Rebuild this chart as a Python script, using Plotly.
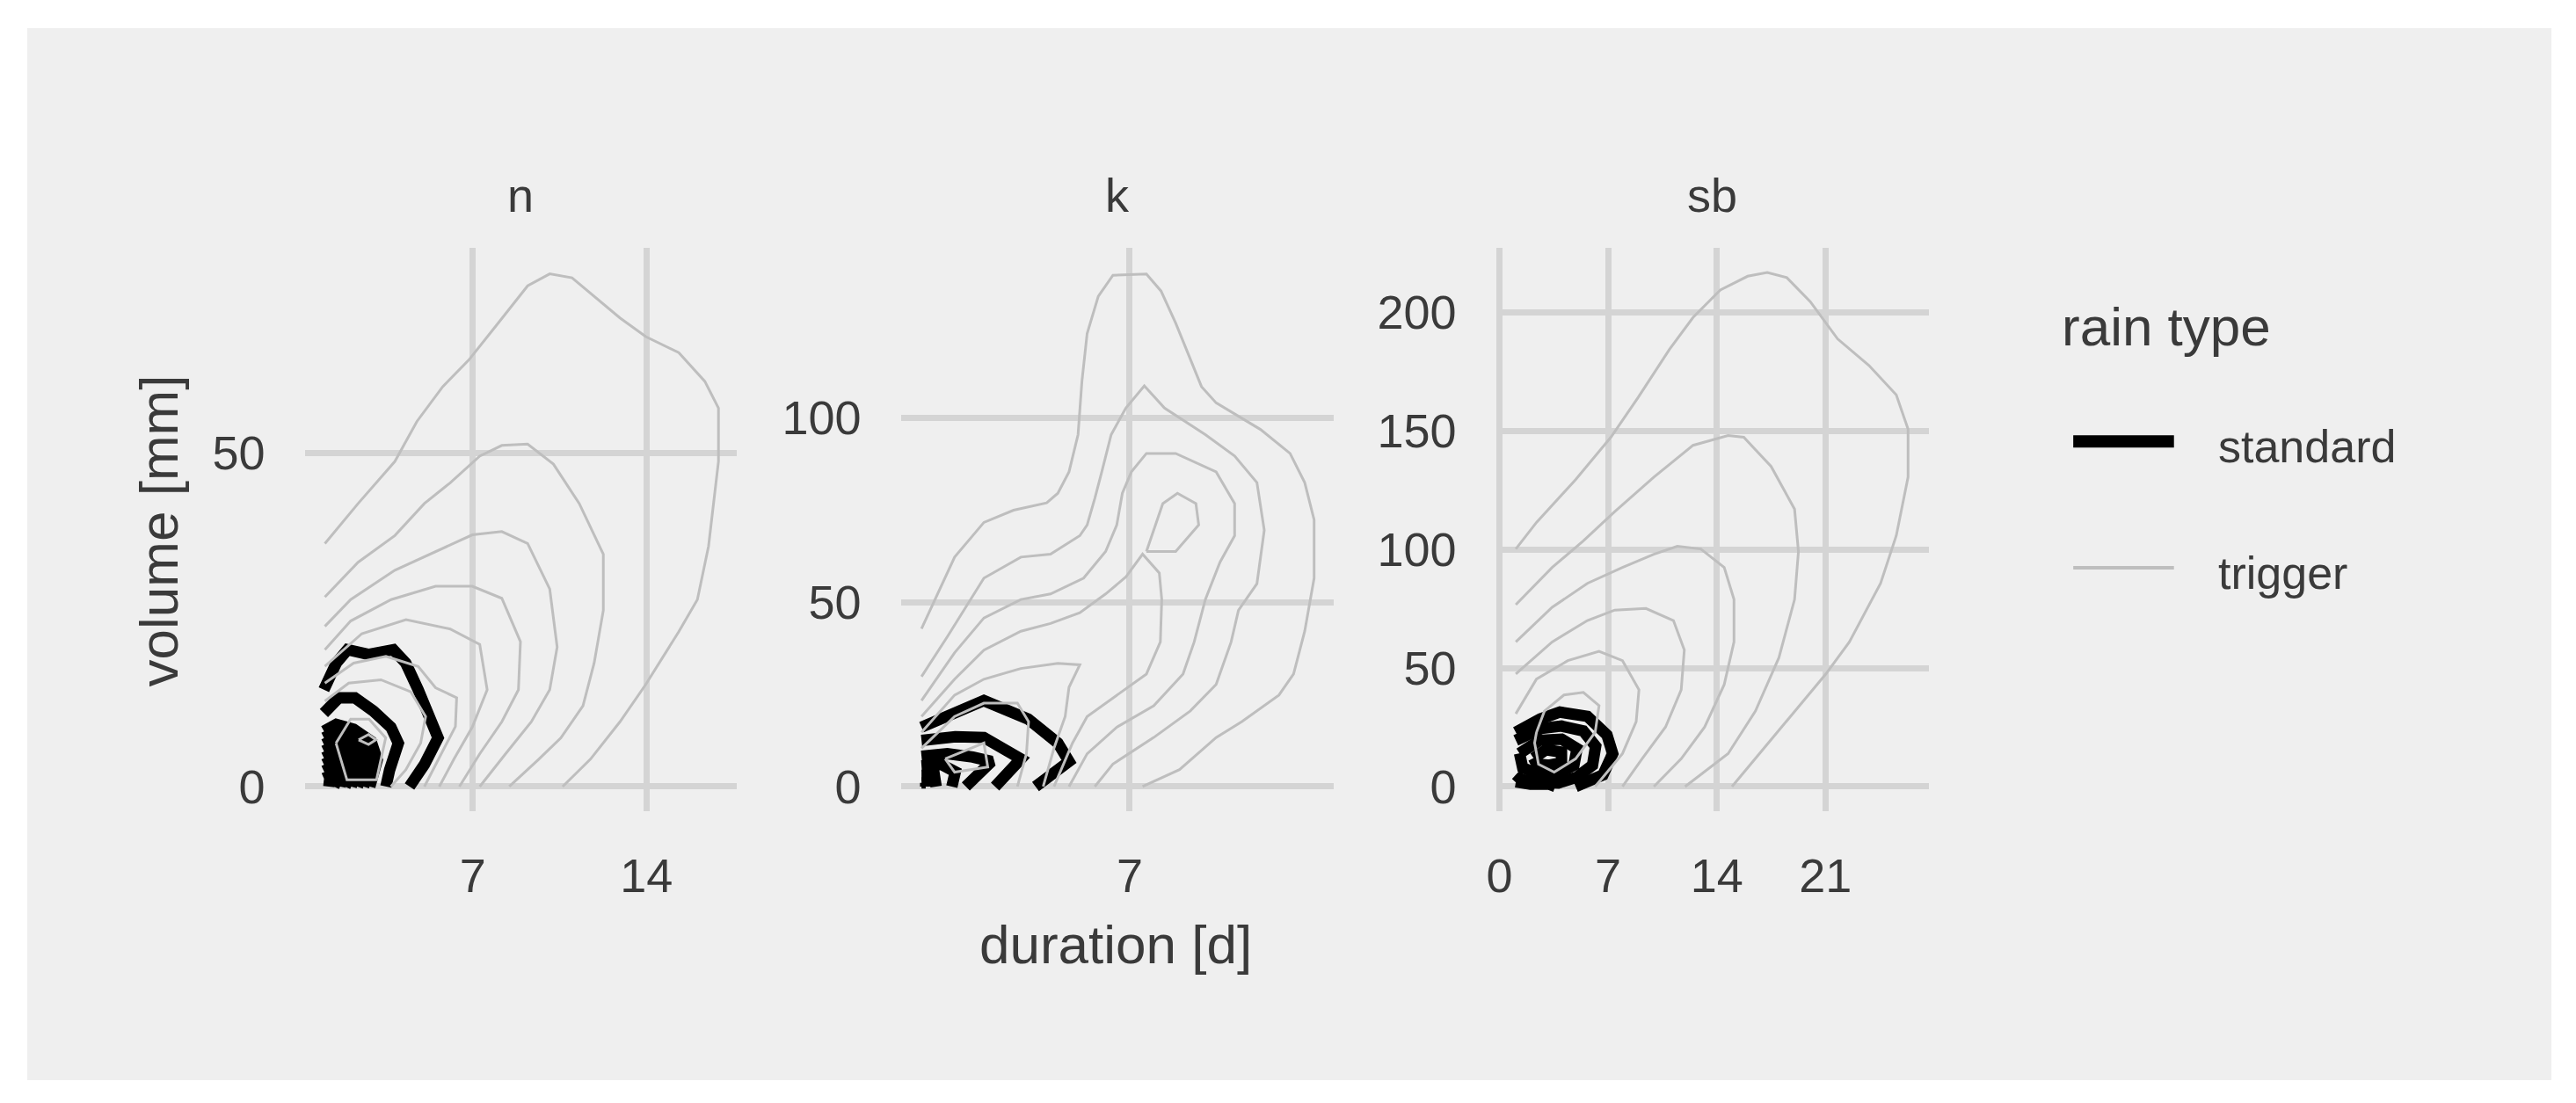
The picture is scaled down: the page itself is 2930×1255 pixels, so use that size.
import plotly.graph_objects as go

# ---- data: 2-D density contours, duration [d] vs volume [mm] ----
# each contour is a list of (duration, volume) vertices

N_TRIGGER = [
    [(1.04, 36.4), (2.38, 42.4), (3.86, 48.7), (4.75, 54.7), (5.79, 59.9), (6.84, 63.9), (8.02, 69.4),
     (9.21, 75.0), (10.1, 76.8), (11.0, 76.2), (12.93, 70.2), (13.97, 67.4), (15.3, 65.0), (16.35, 60.7),
     (16.9, 56.7), (16.9, 48.7), (16.5, 36.0), (16.05, 28.0), (15.3, 23.2), (13.97, 15.3), (12.93, 9.7),
     (11.74, 4.1), (10.62, 0)],
    [(1.04, 28.4), (2.38, 33.6), (3.86, 37.6), (5.05, 42.4), (6.09, 45.5), (7.28, 49.5), (8.17, 51.1),
     (9.21, 51.3), (10.25, 48.3), (11.29, 42.4), (12.26, 34.8), (12.26, 26.4), (11.89, 18.5), (11.44, 12.1),
     (10.55, 7.3), (9.66, 4.1), (8.47, 0)],
    [(1.04, 24.0), (2.08, 28.0), (3.86, 32.4), (5.5, 35.2), (6.98, 37.7), (8.17, 38.2), (9.21, 36.4),
     (10.1, 29.6), (10.4, 20.9), (10.1, 14.5), (9.36, 9.7), (8.32, 4.9), (7.28, 0)],
    [(1.04, 20.5), (2.08, 24.8), (3.71, 28.0), (5.5, 30.0), (6.98, 30.0), (8.17, 28.2), (8.92, 21.7),
     (8.84, 14.5), (8.17, 9.7), (7.28, 4.9), (6.46, 0)],
    [(1.04, 18.0), (2.53, 22.9), (4.31, 25.0), (6.09, 23.6), (7.28, 21.3), (7.58, 14.5), (6.98, 8.9),
     (6.24, 4.1), (5.65, 0)],
    [(1.04, 15.5), (2.2, 18.5), (3.5, 19.5), (4.8, 18.0), (5.5, 14.8), (6.35, 13.3), (6.3, 9.0),
     (5.75, 5.0), (5.05, 0)],
    [(1.04, 12.8), (2.0, 15.5), (3.3, 16.0), (4.5, 14.2), (5.1, 10.5), (4.9, 6.5), (4.3, 2.5), (3.7, 0)],
    [(1.49, 6.5), (2.08, 10.1), (2.82, 10.1), (3.49, 7.3), (3.12, 1.0), (1.93, 1.0), (1.49, 6.5)],
    [(2.4, 7.0), (2.8, 7.8), (3.1, 7.0), (2.8, 6.3), (2.4, 7.0)],
]
N_STANDARD = [
    [(1.0, 14.5), (1.5, 18.5), (1.95, 20.5), (2.8, 19.8), (3.8, 20.5), (4.3, 18.5), (4.8, 14.5),
     (5.3, 10.5), (5.6, 7.3), (5.05, 3.3), (4.45, 0)],
    [(1.0, 11.0), (1.6, 13.3), (2.25, 13.3), (3.0, 11.3), (3.7, 8.9), (4.0, 6.5), (3.65, 2.5), (3.5, 0)],
    [(1.0, 8.3), (1.5, 9.3), (2.2, 8.6), (2.9, 6.8), (3.15, 4.0), (2.95, 1.5), (2.85, 0)],
    [(1.0, 7.3), (1.5, 8.2), (2.15, 7.6), (2.75, 5.6), (2.85, 2.8), (2.6, 0)],
    [(1.0, 6.3), (1.5, 7.2), (2.1, 6.6), (2.6, 4.5), (2.5, 1.5), (2.35, 0)],
    [(1.0, 5.3), (1.5, 6.2), (2.05, 5.4), (2.35, 3.2), (2.1, 0)],
    [(1.0, 4.3), (1.5, 5.2), (2.0, 4.3), (2.1, 2.0), (1.85, 0)],
    [(1.0, 3.3), (1.45, 4.1), (1.8, 2.8), (1.65, 0)],
    [(1.0, 2.3), (1.4, 3.0), (1.6, 1.5), (1.4, 0)],
    [(1.0, 1.2), (1.25, 1.6), (1.2, 0)],
]

K_TRIGGER = [
    [(1.03, 42.8), (1.45, 51.4), (1.98, 62.2), (2.82, 71.6), (3.67, 74.9), (4.62, 76.9), (4.94, 79.5),
     (5.26, 85.3), (5.52, 95.4), (5.63, 109.8), (5.78, 122.8), (6.1, 132.9), (6.52, 138.6), (7.48, 138.9),
     (7.9, 134.3), (8.32, 125.6), (8.74, 115.6), (9.06, 108.4), (9.48, 104.0), (10.22, 99.7), (10.75, 96.8),
     (11.6, 90.3), (12.02, 82.4), (12.29, 72.3), (12.29, 56.5), (12.02, 42.1), (11.7, 30.5), (11.28, 24.8),
     (10.22, 17.6), (9.48, 13.3), (8.43, 4.6), (7.37, 0)],
    [(1.03, 29.8), (1.77, 40.6), (2.82, 56.5), (3.88, 62.2), (4.73, 63.0), (5.57, 68.0), (5.78, 70.9),
     (6.0, 78.1), (6.2, 85.3), (6.47, 95.4), (6.89, 102.6), (7.42, 108.6), (8.0, 102.6), (9.17, 95.4),
     (10.01, 89.6), (10.65, 82.4), (10.86, 69.5), (10.65, 55.0), (10.12, 47.8), (9.91, 39.2), (9.48, 27.7),
     (8.74, 20.5), (7.69, 13.3), (6.52, 6.1), (6.0, 0)],
    [(1.03, 23.3), (1.98, 36.3), (2.82, 45.7), (3.88, 50.7), (4.73, 52.2), (5.68, 56.5), (6.31, 63.7),
     (6.63, 70.9), (6.79, 79.5), (7.05, 85.3), (7.48, 90.3), (8.32, 90.3), (9.48, 85.3), (10.01, 76.7),
     (10.01, 68.0), (9.59, 60.8), (9.17, 50.7), (8.85, 39.2), (8.53, 30.5), (7.69, 21.9), (6.63, 16.1),
     (5.78, 8.9), (5.26, 0)],
    [(1.03, 19.0), (1.98, 29.1), (2.82, 37.0), (3.88, 42.1), (4.73, 44.2), (5.57, 47.1), (6.31, 52.2),
     (6.89, 56.8), (7.37, 63.0), (7.85, 57.9), (7.92, 50.7), (7.88, 39.2), (7.48, 30.5), (6.63, 24.8),
     (5.78, 19.0), (5.36, 11.8), (4.83, 0)],
    [(7.48, 63.7), (7.95, 76.7), (8.37, 79.5), (8.9, 76.7), (8.98, 70.9), (8.32, 63.7), (7.48, 63.7)],
    [(1.03, 14.7), (1.98, 24.8), (2.82, 29.1), (3.88, 32.0), (4.94, 33.4), (5.57, 33.0), (5.26, 26.9),
     (5.15, 19.0), (4.83, 10.4), (4.52, 0)],
    [(1.03, 10.4), (1.98, 19.0), (2.82, 22.6), (3.78, 22.6), (4.1, 17.6), (4.04, 8.9), (3.78, 0)],
    [(1.71, 7.5), (2.82, 11.8), (2.93, 5.3), (1.98, 3.9), (1.71, 7.5)],
]
K_STANDARD = [
    [(1.03, 16.1), (1.98, 19.7), (2.82, 23.3), (4.09, 18.3), (4.94, 11.8), (5.26, 6.8), (4.3, 0)],
    [(1.03, 12.5), (2.0, 13.5), (2.82, 13.3), (3.4, 10.5), (3.88, 7.5), (3.14, 0)],
    [(1.03, 8.2), (1.77, 8.9), (2.5, 8.0), (3.04, 6.8), (2.3, 0)],
    [(1.03, 5.6), (1.6, 6.0), (2.0, 4.0), (1.9, 0)],
    [(1.03, 3.0), (1.4, 3.0), (1.45, 0)],
    [(1.03, 1.0), (1.15, 1.0), (1.15, 0)],
]

SB_TRIGGER = [
    [(1.06, 100.2), (2.39, 111.4), (4.91, 129.4), (7.18, 147.3), (8.94, 164.1), (10.95, 184.3),
     (12.47, 197.8), (14.23, 209.4), (15.99, 215.2), (17.25, 216.8), (18.51, 214.6), (20.02, 204.5),
     (21.78, 188.8), (23.8, 177.6), (25.56, 165.2), (26.32, 150.7), (26.32, 130.5), (25.56, 105.8),
     (24.55, 85.7), (22.54, 61.0), (21.03, 47.5), (18.76, 29.6), (17.0, 16.1), (14.98, 0)],
    [(1.06, 76.7), (3.4, 92.4), (5.41, 103.6), (7.43, 115.9), (9.95, 130.5), (12.47, 143.9), (14.73, 148.0),
     (15.74, 147.3), (17.5, 135.0), (19.01, 117.0), (19.26, 99.1), (19.01, 78.9), (18.0, 54.3),
     (16.49, 31.8), (14.73, 13.9), (11.96, 0)],
    [(1.06, 61.0), (3.4, 75.6), (5.67, 85.7), (7.93, 92.4), (9.95, 98.0), (11.46, 101.3), (12.97, 100.2),
     (14.48, 92.4), (15.11, 78.9), (15.11, 61.0), (14.48, 43.0), (13.22, 25.1), (11.71, 11.7), (9.95, 0)],
    [(1.06, 47.5), (3.4, 61.0), (5.67, 70.0), (7.43, 74.4), (9.44, 75.1), (11.21, 70.0), (11.91, 57.6),
     (11.71, 40.8), (10.7, 25.1), (9.19, 11.7), (7.93, 0)],
    [(1.06, 30.7), (2.39, 45.3), (4.41, 53.1), (6.42, 57.0), (7.93, 53.1), (8.99, 40.8), (8.81, 27.4),
     (7.93, 13.9), (6.17, 0)],
    [(2.39, 22.9), (2.9, 31.8), (4.16, 38.6), (5.41, 39.7), (6.42, 34.1), (6.17, 22.9), (4.91, 11.7),
     (3.53, 6.1), (2.52, 9.4), (2.27, 18.4), (2.39, 22.9)],
]
SB_STANDARD = [
    [(1.06, 22.9), (2.64, 28.5), (3.9, 31.4), (5.67, 29.6), (6.93, 21.7), (7.3, 13.9), (6.67, 4.9), (4.91, 0)],
    [(1.06, 19.5), (2.7, 24.5), (4.0, 25.5), (5.4, 23.5), (6.2, 17.0), (6.0, 9.0), (5.0, 4.0), (3.8, 1.5),
     (2.5, 1.8), (1.4, 3.0), (1.06, 5.0)],
    [(1.3, 14.0), (2.6, 19.5), (4.0, 20.0), (5.0, 16.0), (4.8, 9.0), (3.8, 5.5), (2.4, 5.5), (1.5, 8.0),
     (1.3, 14.0)],
    [(2.2, 12.0), (3.0, 15.5), (4.0, 14.5), (4.0, 10.0), (3.2, 9.0), (2.4, 9.5), (2.2, 12.0)],
    [(1.06, 2.0), (2.0, 1.0), (3.2, 1.0), (3.6, 0)],
]

FACETS = ["n", "k", "sb"]
X_TICKS = {"n": [7, 14], "k": [7], "sb": [0, 7, 14, 21]}
Y_TICKS = {"n": [0, 50], "k": [0, 50, 100], "sb": [0, 50, 100, 150, 200]}
X_RANGE = {"n": [0.226, 17.65], "k": [0.436, 12.85], "sb": [-0.214, 27.65]}
Y_RANGE = {"n": [-3.67, 80.74], "k": [-6.64, 146.1], "sb": [-10.33, 227.3]}
RAIN_TYPES = ["standard", "trigger"]

# ---- layout constants (pixels of the 2930x1255 canvas) ----
W, H = 2930, 1255
PANEL_X = {"n": (336.8, 830.5), "k": (1017.4, 1511.6), "sb": (1697.0, 2191.0)}
PANEL_Y = (282.1, 924.3)
TXT = "#3a3a3a"
FONT = "Liberation Sans, Arial, sans-serif"
GRID = "#d4d4d4"
GREY_LINE = "#bebebe"


def fx(px):
    return px / W


def fy(py):
    return 1 - py / H


def flatten(contours):
    xs, ys = [], []
    for c in contours:
        xs += [p[0] for p in c] + [None]
        ys += [p[1] for p in c] + [None]
    return xs, ys


data = {
    "n": (N_STANDARD, N_TRIGGER),
    "k": (K_STANDARD, K_TRIGGER),
    "sb": (SB_STANDARD, SB_TRIGGER),
}

fig = go.Figure()
for i, facet in enumerate(FACETS, start=1):
    sfx = "" if i == 1 else str(i)
    std, trig = data[facet]
    sx, sy = flatten(std)
    tx, ty = flatten(trig)
    fig.add_trace(go.Scatter(x=sx, y=sy, mode="lines", xaxis="x" + sfx, yaxis="y" + sfx,
                             line=dict(color="black", width=13), showlegend=False))
    fig.add_trace(go.Scatter(x=tx, y=ty, mode="lines", xaxis="x" + sfx, yaxis="y" + sfx,
                             line=dict(color=GREY_LINE, width=3), showlegend=False))

    x0, x1 = PANEL_X[facet]
    axis_common = dict(showgrid=True, gridcolor=GRID, gridwidth=6.5, zeroline=False, showline=False,
                       ticks="", tickfont=dict(size=54, color=TXT, family=FONT))
    fig.update_layout(**{
        "xaxis" + sfx: dict(axis_common, domain=[fx(x0), fx(x1)], range=X_RANGE[facet],
                            tickvals=X_TICKS[facet], anchor="y" + sfx, ticklabelstandoff=37),
        "yaxis" + sfx: dict(axis_common, domain=[fy(PANEL_Y[1]), fy(PANEL_Y[0])], range=Y_RANGE[facet],
                            tickvals=Y_TICKS[facet], anchor="x" + sfx, ticklabelstandoff=44),
    })
    # facet strip label
    fig.add_annotation(text=facet, x=fx((x0 + x1) / 2), y=fy(222), xref="paper", yref="paper",
                       showarrow=False, xanchor="center", yanchor="middle",
                       font=dict(size=54, color=TXT, family=FONT))

# axis titles
fig.add_annotation(text="duration [d]", x=fx(1263), y=fy(1076), xref="paper", yref="paper",
                   showarrow=False, xanchor="center", yanchor="middle",
                   font=dict(size=62, color=TXT, family=FONT))
fig.add_annotation(text="volume [mm]", x=fx(170), y=fy(605), xref="paper", yref="paper",
                   showarrow=False, xanchor="center", yanchor="middle", textangle=-90,
                   font=dict(size=62, color=TXT, family=FONT))

# legend, drawn by hand so the key lines have ggplot's length
fig.add_annotation(text="rain type", x=fx(2341), y=fy(372), xref="paper", yref="paper",
                   showarrow=False, xanchor="left", yanchor="middle",
                   font=dict(size=62, color=TXT, family=FONT))
key_style = {"standard": ("black", 14, 503), "trigger": (GREY_LINE, 4, 647)}
for rt in RAIN_TYPES:
    col, wid, ky = key_style[rt]
    fig.add_shape(type="line", xref="paper", yref="paper", x0=fx(2356), x1=fx(2471), y0=fy(ky), y1=fy(ky),
                  line=dict(color=col, width=wid))
    fig.add_annotation(text=rt, x=fx(2519), y=fy(ky + 6), xref="paper", yref="paper",
                       showarrow=False, xanchor="left", yanchor="middle",
                       font=dict(size=52, color=TXT, family=FONT))

# grey plot background inside a white border
fig.add_shape(type="rect", xref="paper", yref="paper", x0=fx(20), x1=fx(2902), y0=fy(1231), y1=fy(32),
              fillcolor="#efefef", line=dict(width=0), layer="below")

fig.update_layout(
    width=W, height=H, autosize=False,
    margin=dict(l=0, r=0, t=0, b=0, pad=0),
    paper_bgcolor="white", plot_bgcolor="rgba(0,0,0,0)",
    showlegend=False,
    font=dict(family=FONT, color=TXT),
)

fig.write_html("out.html", config={"displayModeBar": False},
               post_script="document.body.style.margin='0';")
